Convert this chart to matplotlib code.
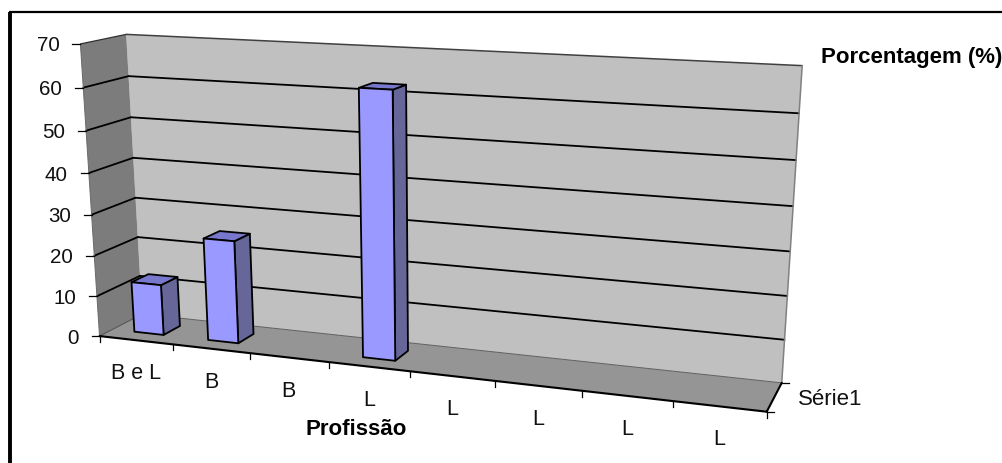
import numpy as np
import matplotlib
matplotlib.use("Agg")
import matplotlib.pyplot as plt
from matplotlib.patches import Polygon

plt.rcParams["font.family"] = ["Liberation Sans", "DejaVu Sans"]

# Dados do gráfico
categorias = ["B e L", "B", "B", "L", "L", "L", "L", "L"]
valores = [12.5, 25, 0, 62.5, 0, 0, 0, 0]
ticks_y = [0, 10, 20, 30, 40, 50, 60, 70]
titulo_x = "Profissão"
titulo_y = "Porcentagem (%)"
serie = "Série1"

W, H = 1002, 463
N = len(categorias)
YMAX = ticks_y[-1]

# Calibração da câmera: (categoria, profundidade, valor) -> pixel
CALIB = [
    (0, 0, 0, 100, 336), (0, 0, 30, 92, 213), (0, 0, 60, 83, 88), (0, 0, 70, 80, 45),
    (0, 1, 0, 143, 316), (0, 1, 30, 134, 197), (0, 1, 70, 127, 34),
    (8, 1, 0, 782, 382), (8, 1, 30, 789, 251), (8, 1, 70, 803, 66),
    (8, 0, 0, 767, 412), (1, 0, 0, 173, 343), (4, 0, 0, 410, 373),
]


def ajusta_camera(pontos):
    """Matriz de projeção 3x4 por DLT."""
    linhas = []
    for c, d, z, px, py in pontos:
        X = [c / N, d, z / YMAX, 1]
        linhas.append(X + [0, 0, 0, 0] + [-px * v for v in X])
        linhas.append([0, 0, 0, 0] + X + [-py * v for v in X])
    _, _, vt = np.linalg.svd(np.array(linhas, dtype=float))
    return vt[-1].reshape(3, 4)


P = ajusta_camera(CALIB)


def proj(c, d, z):
    x, y, w = P @ np.array([c / N, d, z / YMAX, 1.0])
    return x / w, y / w


def face(ax, pts, color, edge="none", lw=0.0, z=1):
    ax.add_patch(Polygon([proj(*p) for p in pts], closed=True, facecolor=color,
                         edgecolor=edge, linewidth=lw, zorder=z, joinstyle="round"))


def linha(ax, a, b, color="black", lw=1.2, z=3):
    pa, pb = proj(*a), proj(*b)
    ax.plot([pa[0], pb[0]], [pa[1], pb[1]], color=color, lw=lw, zorder=z,
            solid_capstyle="round")


fig = plt.figure(figsize=(W / 100, H / 100), dpi=100, facecolor="white")
ax = fig.add_axes([0, 0, 1, 1])
ax.set_xlim(0, W)
ax.set_ylim(H, 0)
ax.axis("off")

# Moldura
ax.plot([10, 10], [H, 12], color="black", lw=2.8, zorder=10, solid_capstyle="butt")
ax.plot([8.7, W], [12, 12], color="black", lw=1.6, zorder=10, solid_capstyle="butt")

# Paredes e piso
face(ax, [(0, 1, 0), (N, 1, 0), (N, 1, YMAX), (0, 1, YMAX)], "#c0c0c0", z=1)
face(ax, [(0, 0, 0), (0, 1, 0), (0, 1, YMAX), (0, 0, YMAX)], "#7c7c7c", z=1)
face(ax, [(0, 0, 0), (N, 0, 0), (N, 1, 0), (0, 1, 0)], "#959595", z=1)

# Linhas de grade
for v in ticks_y[1:-1]:
    linha(ax, (0, 0, v), (0, 1, v), lw=1.3)
    linha(ax, (0, 1, v), (N, 1, v), lw=1.3)
linha(ax, (0, 0, YMAX), (0, 1, YMAX), color="#303030", lw=0.9)
linha(ax, (0, 1, YMAX), (N, 1, YMAX), color="#404040", lw=1.1)
linha(ax, (N, 1, 0), (N, 1, YMAX), color="#808080", lw=1.1)
linha(ax, (0, 0, 0), (0, 1, 0), color="#555555", lw=0.8)
linha(ax, (0, 1, 0), (N, 1, 0), color="#606060", lw=0.7)
linha(ax, (0, 0, 0), (N, 0, 0), lw=1.5, z=4)
linha(ax, (N, 0, 0), (N, 1, 0), lw=1.5, z=4)
linha(ax, (0, 0, 0), (0, 0, YMAX), color="#6a6a6a", lw=0.7)

# Colunas
for i, v in enumerate(valores):
    if v <= 0:
        continue
    c0, c1 = i + 0.3, i + 0.7
    d0, d1 = 0.3, 0.7
    face(ax, [(c1, d0, 0), (c1, d1, 0), (c1, d1, v), (c1, d0, v)], "#666699",
         edge="black", lw=1.3, z=5)
    face(ax, [(c0, d0, v), (c1, d0, v), (c1, d1, v), (c0, d1, v)], "#7777cc",
         edge="black", lw=1.3, z=5)
    face(ax, [(c0, d0, 0), (c1, d0, 0), (c1, d0, v), (c0, d0, v)], "#9999ff",
         edge="black", lw=1.3, z=6)

# Marcas e rótulos do eixo de valores
for v in ticks_y:
    x, y = proj(0, 0, v)
    ax.plot([x - 8, x], [y, y], color="black", lw=0.9, zorder=4)
    ax.text(x - 21, y, str(v), ha="right", va="center_baseline", fontsize=14.8,
            color="#111111")

# Marcas e rótulos das categorias
for i in range(N + 1):
    x, y = proj(i, 0, 0)
    ax.plot([x, x], [y, y + 6], color="black", lw=0.9, zorder=4)
for i, nome in enumerate(categorias):
    x, y = proj(i + 0.5, 0, 0)
    ax.text(x, y + 31, nome, ha="center", va="center_baseline", fontsize=15.5,
            color="#111111")

# Marcas do eixo de profundidade
for d in (0, 1):
    x, y = proj(N, d, 0)
    ax.plot([x, x + 7], [y, y], color="black", lw=0.9, zorder=4)
ax.text(798, 397, serie, ha="left", va="center_baseline", fontsize=16, color="#111111")

# Títulos dos eixos
ax.text(356.5, 427, titulo_x, ha="center", va="center_baseline", fontsize=16,
        fontweight="bold")
ax.text(821, 55, titulo_y, ha="left", va="center_baseline", fontsize=16,
        fontweight="bold")

fig.savefig("out.png", dpi=100, facecolor="white")
